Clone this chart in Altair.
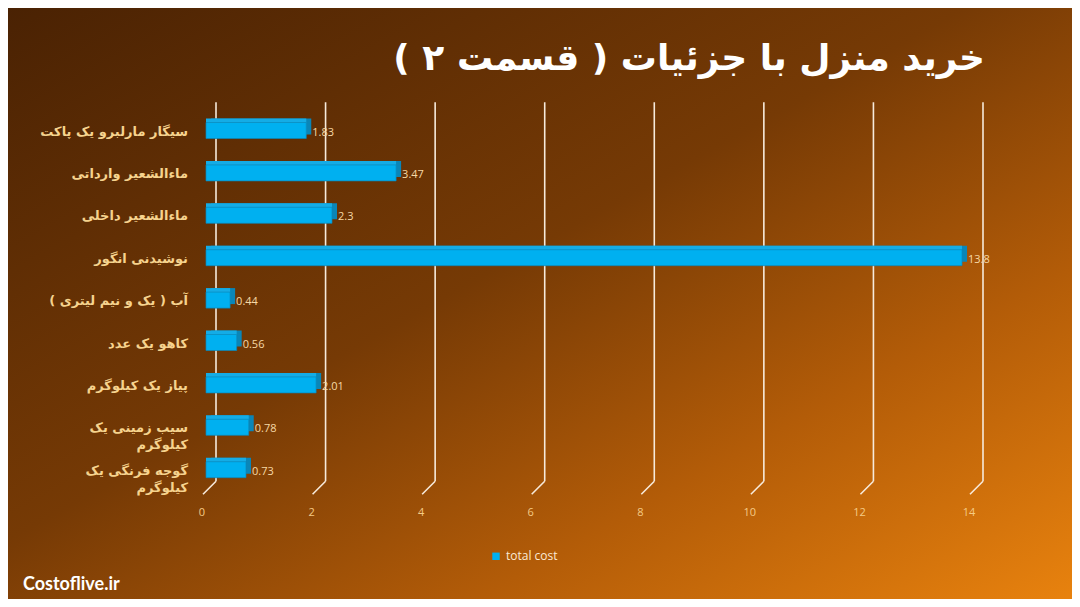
import altair as alt
import pandas as pd

items = ["سیگار مارلبرو یک پاکت", "ماءالشعیر وارداتی", "ماءالشعیر داخلی", "نوشیدنی انگور",
         "آب ( یک و نیم لیتری )", "کاهو  یک عدد", "پیاز یک کیلوگرم",
         "سیب زمینی یک\nکیلوگرم", "گوجه فرنگی یک\nکیلوگرم"]
values = [1.83, 3.47, 2.3, 13.8, 0.44, 0.56, 2.01, 0.78, 0.73]
value_labels = ["1.83", "3.47", "2.3", "13.8", "0.44", "0.56", "2.01", "0.78", "0.73"]
tick_values = [0, 2, 4, 6, 8, 10, 12, 14]
tick_labels = ["0", "2", "4", "6", "8", "10", "12", "14"]
series_name = "total cost"
title_text = "خرید منزل با جزئیات ( قسمت ۲ )"
site_text = "Costoflive.ir"

RLM = "\u200f"

W, H = 767, 381.6
PL, PT, PR, PB = 198, 101.3, 99, 108.1

df = pd.DataFrame({"item": items, "value": values, "vlabel": value_labels,
                   "series": [series_name] * len(items)})
ticks_df = pd.DataFrame({"t": tick_values, "tl": tick_labels})

xscale = alt.Scale(domain=[0, 14], nice=False, zero=True)
yscale = alt.Scale(paddingInner=0, paddingOuter=0)

bg_grad = {
    "gradient": "linear", "x1": 0, "y1": 0, "x2": 1, "y2": 1,
    "stops": [
        {"offset": 0, "color": "#4a2203"},
        {"offset": 0.45, "color": "#763a05"},
        {"offset": 0.72, "color": "#b35c08"},
        {"offset": 1, "color": "#e8820e"},
    ],
}

one = alt.Data(values=[{}])

background = alt.Chart(one).mark_rect(color=bg_grad).encode(
    x=alt.value(-PL), x2=alt.value(W + PR), y=alt.value(-PT), y2=alt.value(H + PB)
)

grid_v = alt.Chart(ticks_df).mark_rule(xOffset=10, strokeWidth=1.6, color="#f7eadb").encode(
    x=alt.X("t:Q", scale=xscale, axis=None),
    y=alt.value(-7), y2=alt.value(372),
)
grid_d = alt.Chart(ticks_df).mark_rule(xOffset=10, x2Offset=-3, strokeWidth=1.6, color="#f7eadb").encode(
    x=alt.X("t:Q", scale=xscale, axis=None), x2="t:Q",
    y=alt.value(372), y2=alt.value(385),
)
tick_text = alt.Chart(ticks_df).mark_text(align="center", baseline="middle", dx=-4,
                                          fontSize=11, font="Open Sans", color="#f5cb85").encode(
    x=alt.X("t:Q", scale=xscale, axis=None), y=alt.value(404), text="tl:N"
)

base = alt.Chart(df)
ysort = alt.Y("item:N", sort=items, scale=yscale, axis=None)

side = base.mark_bar(size=16, color="#0a86b8", xOffset=5, x2Offset=5, yOffset=-4).encode(
    x=alt.X("value:Q", scale=xscale, axis=None), y=ysort
)
top = base.mark_bar(size=16, color="#14ace6", xOffset=0, x2Offset=4, yOffset=-4).encode(
    x=alt.X("value:Q", scale=xscale, axis=None), y=ysort
)
front = base.mark_bar(size=16, stroke="#0b86b8", strokeWidth=0.7).encode(
    x=alt.X("value:Q", scale=xscale, axis=None),
    y=ysort,
    color=alt.Color("series:N", scale=alt.Scale(range=["#00b0f0"]),
                    legend=alt.Legend(orient="none", legendX=284, legendY=441, title=None,
                                      symbolType="square", symbolSize=55, padding=0,
                                      labelColor="#fbe9d5", labelFontSize=12,
                                      labelFont="Open Sans", symbolStrokeWidth=0)),
)

vlabels = base.mark_text(align="left", baseline="middle", dx=6, dy=2, fontSize=11,
                         font="Open Sans", color="#f6d9a6").encode(
    x=alt.X("value:Q", scale=xscale, axis=None), y=ysort, text="vlabel:N"
)

ylabels = base.transform_calculate(
    lab="'" + RLM + "' + datum.item + '" + RLM + "'"
).mark_text(align="right", baseline="middle", dy=1, fontSize=13, fontWeight="bold",
            font="DejaVu Sans", color="#f6d38e", lineBreak="\n", lineHeight=17).encode(
    x=alt.value(-18), y=ysort, text="lab:N"
)

title = alt.Chart(one).mark_text(align="right", baseline="middle", fontSize=36,
                                 fontWeight="bold", font="DejaVu Sans", color="#ffffff").encode(
    x=alt.value(779), y=alt.value(-50), text=alt.value(RLM + title_text + RLM)
)

site = alt.Chart(one).mark_text(align="left", baseline="middle", fontSize=18,
                                fontWeight="bold", font="Lato", color="#ffffff").encode(
    x=alt.value(-183), y=alt.value(476), text=alt.value(site_text)
)

chart = alt.layer(background, grid_v, grid_d, tick_text, side, top, front, vlabels, ylabels,
                  title, site).properties(
    width=W, height=H,
    padding={"left": PL, "top": PT, "right": PR, "bottom": PB},
    autosize=alt.AutoSizeParams(type="none"),
).configure_view(stroke=None).configure(background="#4a2203")

chart.save("out.html", embed_options={"renderer": "svg", "actions": False})
